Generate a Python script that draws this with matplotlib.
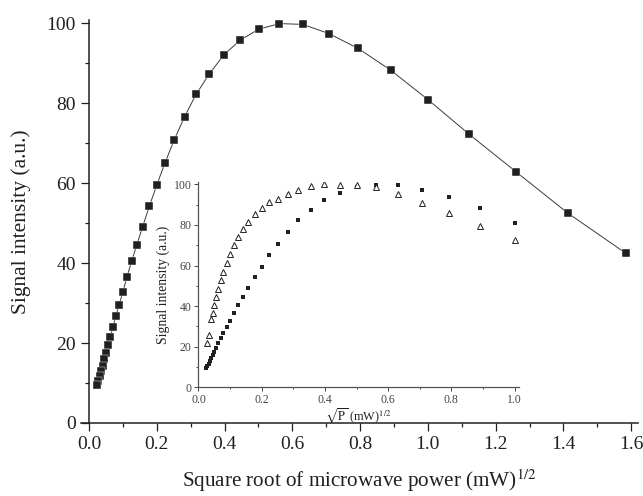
import numpy as np
import matplotlib
matplotlib.use('Agg')
import matplotlib.pyplot as plt
from matplotlib.ticker import MultipleLocator

plt.rcParams['font.family'] = ['Liberation Serif', 'DejaVu Serif']
plt.rcParams['mathtext.fontset'] = 'stix'

ink = '#231f20'

# square root of microwave power (mW)^1/2 and signal intensity (a.u.)
root_power = [1.585, 1.413, 1.259, 1.122, 1.000, 0.891, 0.794, 0.708, 0.631,
              0.562, 0.501, 0.447, 0.398, 0.355, 0.316, 0.282, 0.251, 0.224,
              0.200, 0.178, 0.158, 0.141, 0.126, 0.112, 0.100, 0.089, 0.079,
              0.071, 0.063, 0.056, 0.050, 0.045, 0.040, 0.035, 0.032, 0.028,
              0.025]
signal = [42.4, 52.5, 62.9, 72.2, 80.9, 88.2, 93.7, 97.4, 99.7,
          99.9, 98.5, 95.8, 92.1, 87.3, 82.2, 76.6, 70.7, 65.0,
          59.5, 54.2, 49.0, 44.5, 40.5, 36.5, 32.8, 29.6, 26.7,
          24.1, 21.6, 19.5, 17.6, 15.9, 14.3, 12.9, 11.7, 10.6,
          9.6]

# second sample (open triangles, inset only)
root_power_b = [1.000, 0.891, 0.794, 0.708, 0.631, 0.562, 0.501, 0.447, 0.398,
                0.355, 0.316, 0.282, 0.251, 0.224, 0.200, 0.178, 0.158, 0.141,
                0.126, 0.112, 0.100, 0.089, 0.079, 0.071, 0.063, 0.056, 0.050,
                0.045, 0.040, 0.032, 0.028]
signal_b = [72.6, 79.5, 85.7, 91.0, 95.2, 98.8, 99.6, 99.6, 100.0,
            99.2, 97.2, 95.2, 92.9, 91.3, 88.3, 85.4, 81.6, 78.0,
            73.9, 69.9, 65.7, 61.4, 56.9, 52.8, 48.5, 44.4, 40.5,
            36.8, 33.5, 26.0, 22.0]

fig = plt.figure(figsize=(6.43, 4.96), dpi=100)

# main plot
ax = fig.add_axes([0.1252, 0.1472, 0.867, 0.8125])
ax.plot(root_power, signal, '-', color='#3a3a3a', lw=0.7, zorder=2)
ax.plot(root_power, signal, 's', color=ink, ms=6.4, mec='#ffffff', mew=0.3, zorder=3)
ax.set_xlim(-0.025, 1.62)
ax.set_ylim(0, 100.8)
ax.spines['top'].set_visible(False)
ax.spines['right'].set_visible(False)
ax.spines['left'].set_position(('data', 0))
for s in ('left', 'bottom'):
    ax.spines[s].set_linewidth(1.1)
    ax.spines[s].set_color(ink)
ax.xaxis.set_major_locator(MultipleLocator(0.2))
ax.xaxis.set_minor_locator(MultipleLocator(0.1))
ax.yaxis.set_major_locator(MultipleLocator(20))
ax.yaxis.set_minor_locator(MultipleLocator(10))
ax.tick_params(which='major', direction='out', length=5.5, width=0.9, colors=ink,
               labelsize=14, pad=4)
ax.tick_params(which='minor', direction='out', length=3, width=0.9, colors=ink)
ax.set_xticks(np.arange(0, 1.61, 0.2))
ax.set_xticklabels(['%.1f' % v for v in np.arange(0, 1.61, 0.2)])
ax.set_xlabel('Square root of microwave power (mW)$^{1/2}$', fontsize=15.2,
              color=ink, labelpad=10)
ax.set_ylabel('Signal intensity (a.u.)', fontsize=15.5, color=ink, labelpad=11)

# inset
inset = fig.add_axes([0.3087, 0.2191, 0.4984, 0.4145])
inset.patch.set_alpha(0)
x_in = [x for x in root_power if x <= 1.0]
y_in = [y for x, y in zip(root_power, signal) if x <= 1.0]
inset.plot(x_in, y_in, 's', color=ink, ms=3.5, mew=0)
inset.plot(root_power_b, signal_b, '^', mfc='white', mec=ink, ms=4.3, mew=0.7)
inset.set_xlim(0, 1.014)
inset.set_ylim(0, 101.3)
inset.spines['top'].set_visible(False)
inset.spines['right'].set_visible(False)
for s in ('left', 'bottom'):
    inset.spines[s].set_linewidth(0.9)
    inset.spines[s].set_color('#555555')
inset.xaxis.set_major_locator(MultipleLocator(0.2))
inset.xaxis.set_minor_locator(MultipleLocator(0.1))
inset.yaxis.set_major_locator(MultipleLocator(20))
inset.yaxis.set_minor_locator(MultipleLocator(10))
inset.tick_params(which='major', direction='out', length=3, width=0.7, colors='#444444',
                  labelsize=8.5, pad=2)
inset.tick_params(which='minor', direction='out', length=1.5, width=0.7, colors='#444444')
inset.set_xlabel(r'$\sqrt{\mathrm{P}}$ (mW)$^{1/2}$', fontsize=8.8, color=ink, labelpad=0)
inset.set_ylabel('Signal intensity (a.u.)', fontsize=9.8, color=ink, labelpad=3)

fig.savefig('out.png', dpi=100)
